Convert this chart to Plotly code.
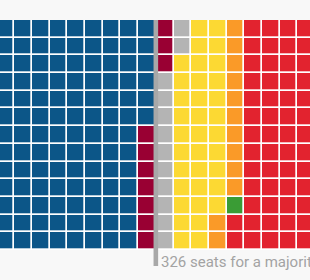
import plotly.graph_objects as go

parties = ["Conservative", "DUP", "Others", "SNP", "Lib Dem", "Green", "Labour"]
seats = [318, 10, 12, 35, 12, 1, 262]
colors = ["#0c5688", "#990033", "#b4b4b4", "#fcd933", "#fa9a28", "#3a9c35", "#e2232f"]
rows = 13
majority = 326
majority_label = "326 seats for a majority"

# build column-major waffle grid
cells = []
for i, n in enumerate(seats):
    cells += [i] * n
cols = len(cells) // rows
z = [[None] * cols for _ in range(rows)]
for k, p in enumerate(cells):
    z[k % rows][k // rows] = p

# stepwise discrete colorscale
n = len(colors)
cs = []
for i, c in enumerate(colors):
    cs.append([i / n, c])
    cs.append([(i + 1) / n, c])

fig = go.Figure(go.Heatmap(
    z=z, x=list(range(cols)), y=list(range(rows)),
    colorscale=cs, zmin=-0.5, zmax=n - 0.5, showscale=False,
    xgap=1.7, ygap=1.7, hoverinfo="skip",
))

line_x = (majority - 1) // rows - 0.5

fig.add_shape(type="line", xref="x", yref="paper",
              x0=line_x, x1=line_x, y0=-16 / 230, y1=1,
              line=dict(color="#a8a8a8", width=4.6), layer="above")
fig.add_annotation(x=line_x, xref="x", y=-1 / 230, yref="paper",
                   text=majority_label, showarrow=False,
                   xanchor="left", yanchor="top", xshift=3,
                   font=dict(family="Roboto", size=15, color="#a3a3a3"))

fig.update_layout(
    width=310, height=280,
    margin=dict(l=0, r=0, t=20, b=30),
    paper_bgcolor="#f8f8f8", plot_bgcolor="#ffffff",
    xaxis=dict(range=[15.695, 33.21], visible=False, fixedrange=True),
    yaxis=dict(range=[rows - 0.5, -0.5], visible=False, fixedrange=True),
    showlegend=False,
)
fig.write_html("out.html", config={"displayModeBar": False})
